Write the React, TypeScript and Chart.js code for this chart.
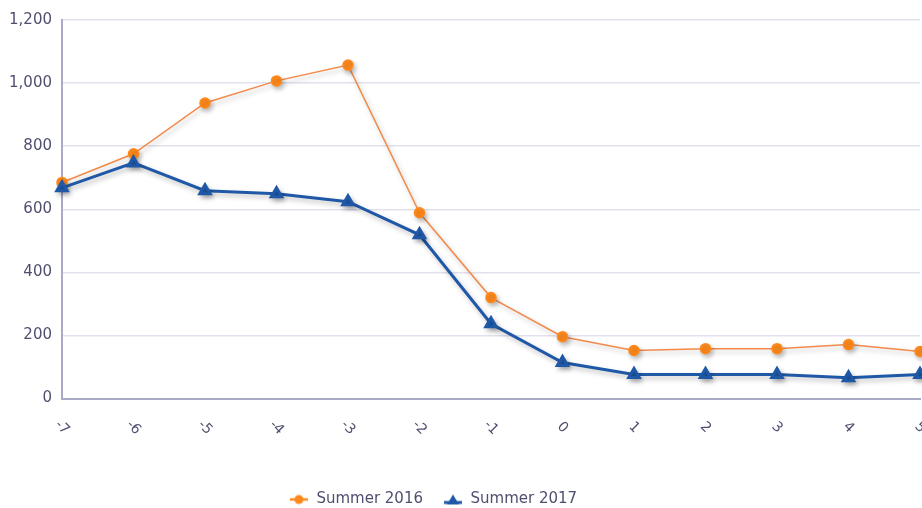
import React, { useEffect, useRef } from 'react';
import { Chart, registerables } from 'chart.js';

Chart.register(...registerables);

const categories = ['-7', '-6', '-5', '-4', '-3', '-2', '-1', '0', '1', '2', '3', '4', '5'];
const summer2016 = [685, 776, 937, 1007, 1057, 589, 320, 196, 152, 158, 158, 171, 149];
const summer2017 = [668, 747, 659, 649, 624, 519, 237, 114, 76, 76, 76, 66, 76];
const seriesNames = ['Summer 2016', 'Summer 2017'];
const yMin = 0;
const yMax = 1200;
const yStep = 200;

const ORANGE = '#ff8a1c';
const ORANGE_LINE = '#f28a4a';
const BLUE = '#1f58a6';
const TEXT = '#4f4f70';
const FONT = '"DejaVu Sans", Verdana, sans-serif';

function makeMarker(kind: 'circle' | 'triangle'): HTMLCanvasElement {
  const c = document.createElement('canvas');
  c.width = 20;
  c.height = 12;
  const g = c.getContext('2d')!;
  if (kind === 'circle') {
    g.strokeStyle = ORANGE;
    g.lineWidth = 2.5;
    g.beginPath();
    g.moveTo(1, 6);
    g.lineTo(19, 6);
    g.stroke();
    g.fillStyle = ORANGE;
    g.beginPath();
    g.arc(10, 6, 4.5, 0, Math.PI * 2);
    g.fill();
  } else {
    g.strokeStyle = BLUE;
    g.lineWidth = 3;
    g.beginPath();
    g.moveTo(1, 9);
    g.lineTo(19, 9);
    g.stroke();
    g.fillStyle = BLUE;
    g.beginPath();
    g.moveTo(10, 1);
    g.lineTo(16, 11);
    g.lineTo(4, 11);
    g.closePath();
    g.fill();
  }
  return c;
}

const shadowPlugin = {
  id: 'lineShadow',
  beforeDatasetDraw(chart: any) {
    const ctx = chart.ctx;
    ctx.save();
    ctx.shadowColor = 'rgba(0,0,0,0.25)';
    ctx.shadowBlur = 5;
    ctx.shadowOffsetX = 2;
    ctx.shadowOffsetY = 3;
  },
  afterDatasetDraw(chart: any) {
    chart.ctx.restore();
  },
};

const rotatedLabels = {
  id: 'rotatedLabels',
  afterDraw(chart: any) {
    const ctx = chart.ctx;
    const xs = chart.scales.x;
    const y = chart.chartArea.bottom + 29;
    ctx.save();
    ctx.font = `14px ${FONT}`;
    ctx.fillStyle = TEXT;
    ctx.textAlign = 'center';
    ctx.textBaseline = 'middle';
    categories.forEach((lab, i) => {
      const x = xs.getPixelForValue(i);
      ctx.save();
      ctx.translate(x, y);
      ctx.rotate(Math.PI / 4);
      ctx.fillText(lab, 0, 0);
      ctx.restore();
    });
    ctx.restore();
  },
};

export default function App() {
  const ref = useRef<HTMLCanvasElement>(null);
  useEffect(() => {
    const markers = [makeMarker('circle'), makeMarker('triangle')];
    const chart = new Chart(ref.current!, {
      type: 'line',
      data: {
        labels: categories,
        datasets: [
          {
            label: seriesNames[0],
            data: summer2016,
            borderColor: ORANGE_LINE,
            borderWidth: 1.5,
            backgroundColor: ORANGE,
            pointBackgroundColor: ORANGE,
            pointBorderColor: ORANGE,
            pointStyle: 'circle',
            pointRadius: 5,
            tension: 0,
            order: 1,
          },
          {
            label: seriesNames[1],
            data: summer2017,
            borderColor: BLUE,
            borderWidth: 3,
            backgroundColor: BLUE,
            pointBackgroundColor: BLUE,
            pointBorderColor: BLUE,
            pointStyle: 'triangle',
            pointRadius: 6,
            tension: 0,
            order: 0,
          },
        ],
      },
      options: {
        responsive: false,
        devicePixelRatio: 1,
        animation: false,
        layout: { padding: { left: 0, right: 10, top: 20, bottom: 0 } },
        scales: {
          x: {
            offset: false,
            grid: { display: false, drawTicks: false },
            border: { color: '#a9a9c8', width: 2 },
            ticks: { display: false },
            afterFit: (s: any) => {
              s.height = 73.5;
            },
          },
          y: {
            min: yMin,
            max: yMax,
            grid: { color: '#e2e2ee', drawTicks: false, lineWidth: 1.5 },
            border: { color: '#a9a9c8', width: 2 },
            ticks: {
              stepSize: yStep,
              padding: 10,
              color: TEXT,
              font: { family: FONT, size: 15 },
              callback: (v: any) => Number(v).toLocaleString('en-US'),
            },
            afterFit: (s: any) => {
              s.width = 116;
            },
          },
        },
        plugins: {
          tooltip: { enabled: false },
          legend: {
            position: 'bottom',
            labels: {
              usePointStyle: true,
              pointStyleWidth: 20,
              padding: 20,
              color: TEXT,
              font: { family: FONT, size: 15 },
              sort: (a: any, b: any) => a.datasetIndex - b.datasetIndex,
              generateLabels: (ch: any) => {
                const items = (Chart.defaults.plugins.legend.labels as any).generateLabels(ch);
                return items.map((it: any) => ({ ...it, pointStyle: markers[it.datasetIndex] }));
              },
            },
          },
        },
      },
      plugins: [shadowPlugin, rotatedLabels],
    });
    return () => chart.destroy();
  }, []);
  return (
    <div style={{ position: 'fixed', left: 0, top: 0, width: 922, height: 508, overflow: 'hidden', background: '#fff' }}>
      <div style={{ position: 'absolute', left: -54, top: 0, width: 984, height: 517 }}>
        <canvas ref={ref} width={984} height={517} style={{ display: 'block' }} />
      </div>
    </div>
  );
}
